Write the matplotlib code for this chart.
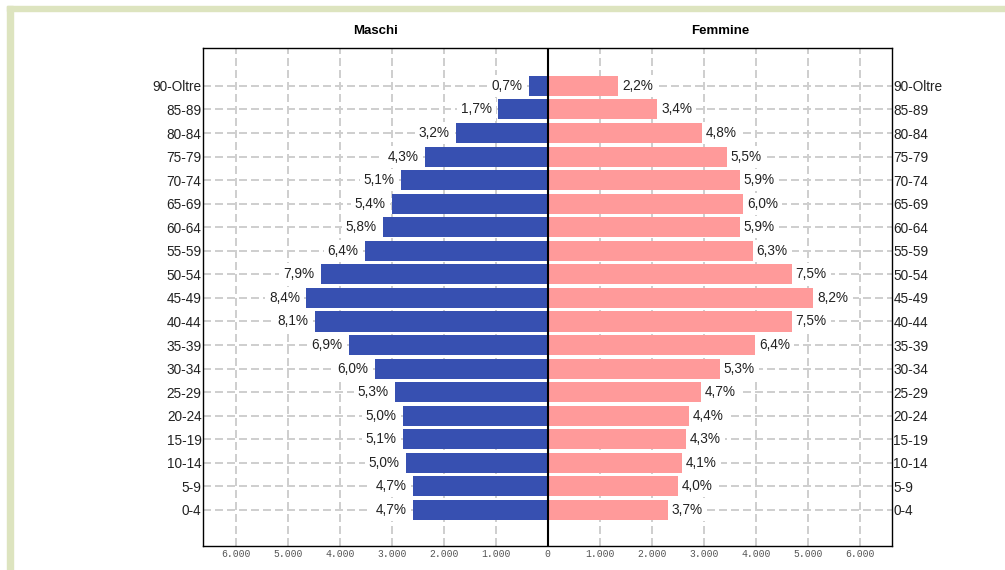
import matplotlib.pyplot as plt
from matplotlib.patches import Rectangle
from matplotlib.ticker import FuncFormatter

fasce = ['0-4', '5-9', '10-14', '15-19', '20-24', '25-29', '30-34', '35-39', '40-44',
         '45-49', '50-54', '55-59', '60-64', '65-69', '70-74', '75-79', '80-84', '85-89',
         '90-Oltre']
maschi = [2600, 2600, 2730, 2790, 2790, 2940, 3330, 3830, 4480, 4650, 4370, 3520, 3170,
          3000, 2830, 2370, 1770, 960, 365]
femmine = [2330, 2520, 2600, 2670, 2730, 2960, 3330, 4000, 4710, 5130, 4710, 3960, 3710,
           3770, 3710, 3460, 2980, 2120, 1370]
perc_m = ['4,7%', '4,7%', '5,0%', '5,1%', '5,0%', '5,3%', '6,0%', '6,9%', '8,1%', '8,4%',
          '7,9%', '6,4%', '5,8%', '5,4%', '5,1%', '4,3%', '3,2%', '1,7%', '0,7%']
perc_f = ['3,7%', '4,0%', '4,1%', '4,3%', '4,4%', '4,7%', '5,3%', '6,4%', '7,5%', '8,2%',
          '7,5%', '6,3%', '5,9%', '6,0%', '5,9%', '5,5%', '4,8%', '3,4%', '2,2%']
tick_vals = [-6000, -5000, -4000, -3000, -2000, -1000, 0, 1000, 2000, 3000, 4000, 5000, 6000]

plt.rcParams['font.family'] = ['Liberation Sans', 'DejaVu Sans']

fig = plt.figure(figsize=(10.05, 5.7), dpi=100)
W, H = 1005, 570

# cornice verde chiaro
border = '#dde4bf'
fig.patches.append(Rectangle((7 / W, 0), 6 / W, 1 - 6 / H, transform=fig.transFigure,
                             color=border, zorder=0))
fig.patches.append(Rectangle((7 / W, 1 - 11 / H), 1, 5 / H, transform=fig.transFigure,
                             color=border, zorder=0))

ax = fig.add_axes([203 / W, 24 / H, 689 / W, 498 / H])

y = list(range(len(fasce)))
grid_kw = dict(color='#cfcfcf', lw=1.44, dashes=(4, 2), zorder=0)
for v in tick_vals:
    if v != 0:
        ax.axvline(v, **grid_kw)
for yy in y:
    ax.axhline(yy, **grid_kw)

ax.barh(y, [-m for m in maschi], height=0.85, color='#3750b1', zorder=2)
ax.barh(y, femmine, height=0.85, color='#ff9a9a', zorder=2)
ax.axvline(0, color='black', lw=1.5, zorder=3)

for yy, m, p in zip(y, maschi, perc_m):
    ax.annotate(p, (-m, yy), xytext=(-6, 0), textcoords='offset pixels', ha='right',
                va='center', fontsize=9.8, color='#222222', zorder=4,
                bbox=dict(boxstyle='square,pad=0.3', fc='white', ec='none'))
for yy, f, p in zip(y, femmine, perc_f):
    ax.annotate(p, (f, yy), xytext=(3, 0), textcoords='offset pixels', ha='left',
                va='center', fontsize=9.8, color='#222222', zorder=4,
                bbox=dict(boxstyle='square,pad=0.3', fc='white', ec='none'))

ax.set_xlim(-6630, 6620)
ax.set_ylim(-1.53, 19.61)
ax.set_yticks(y)
ax.set_yticklabels(fasce)
ax.set_xticks(tick_vals)
ax.xaxis.set_major_formatter(FuncFormatter(lambda v, pos: f'{abs(int(v)):,}'.replace(',', '.')))
ax.tick_params(axis='y', length=0, pad=1, labelsize=9.8, labelright=True, labelcolor='#222222')
ax.tick_params(axis='x', length=0, pad=2.5, labelsize=7, labelcolor='#555555')
for lab in ax.get_xticklabels():
    lab.set_family('Liberation Mono')
for s in ax.spines.values():
    s.set_color('black')
    s.set_linewidth(1.0)

fig.text((203 + 548) / 2 / W, 1 - 31 / H, 'Maschi', ha='center', va='center',
         fontsize=9.5, fontweight='bold')
fig.text((548 + 892) / 2 / W, 1 - 31 / H, 'Femmine', ha='center', va='center',
         fontsize=9.5, fontweight='bold')

fig.savefig('out.png', dpi=100)
